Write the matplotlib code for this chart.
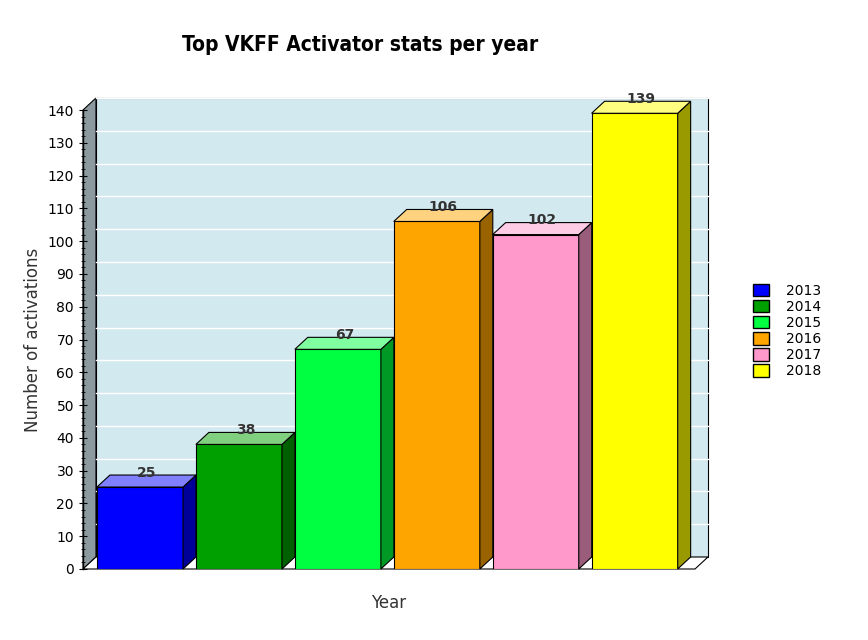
import matplotlib
matplotlib.use("Agg")
import matplotlib.pyplot as plt
from matplotlib.patches import Polygon, Rectangle
from matplotlib.colors import to_rgb

years = ["2013", "2014", "2015", "2016", "2017", "2018"]
values = [25, 38, 67, 106, 102, 139]
colors = ["#0000ff", "#00a000", "#00ff40", "#ffa500", "#ff99cc", "#ffff00"]

fig = plt.figure(figsize=(8.68, 6.4), dpi=100)
ax = fig.add_axes([83/868, 1-569/640, (695-83)/868, (569-110)/640])
xl, xr = -0.576, 5.61
ax.set_xlim(xl, xr); ax.set_ylim(0, 140)
dx, dy = 0.131, 3.66
ax.set_facecolor("none")
for s in ["top", "right", "bottom"]:
    ax.spines[s].set_visible(False)
ax.spines["left"].set_visible(False)

def shade(c, f):
    r, g, b = to_rgb(c)
    return (r*f, g*f, b*f)
def tint(c, f):
    r, g, b = to_rgb(c)
    return (r+(1-r)*f, g+(1-g)*f, b+(1-b)*f)

kw = dict(clip_on=False, ec="black", lw=0.8)
# back wall
ax.add_patch(Polygon([(xl+dx, dy), (xr+dx, dy), (xr+dx, 140+dy), (xl+dx, 140+dy)], fc="#d3e9f0", zorder=0, **kw))
# left wall
ax.add_patch(Polygon([(xl, 0), (xl+dx, dy), (xl+dx, 140+dy), (xl, 140)], fc="#8c9aa0", zorder=0, **kw))
# floor
ax.add_patch(Polygon([(xl, 0), (xr, 0), (xr+dx, dy), (xl+dx, dy)], fc="white", zorder=0, **kw))
for t in range(10, 141, 10):
    ax.plot([xl+dx, xr+dx], [t+dy, t+dy], color="white", lw=1, zorder=0.5, clip_on=False)
ax.plot([xl, xl], [0, 140], color="black", lw=1, clip_on=False, zorder=1)

w = 0.87
for i, (v, c) in enumerate(zip(values, colors)):
    x0, x1 = i - w/2, i + w/2
    ax.bar(i, v, width=w, color=c, edgecolor="black", lw=0.8, zorder=3)
    ax.add_patch(Polygon([(x1, 0), (x1+dx, dy), (x1+dx, v+dy), (x1, v)], fc=shade(c, 0.6), zorder=3, **kw))
    ax.add_patch(Polygon([(x0, v), (x1, v), (x1+dx, v+dy), (x0+dx, v+dy)], fc=tint(c, 0.5), zorder=3, **kw))
    ax.text(i + dx/2, v + dy*0.6, str(v), ha="center", va="bottom", fontsize=10, fontweight="bold", color="#333333", zorder=4)

ax.set_xticks([])
ax.set_yticks(range(0, 141, 10))
ax.set_yticks(range(0, 141, 2), minor=True)
ax.tick_params(axis="y", labelsize=10, direction="inout", length=6, colors="black")
ax.tick_params(axis="y", which="minor", direction="inout", length=3)
ax.set_ylabel("Number of activations", fontsize=12, color="#333333")
ax.set_xlabel("Year", fontsize=12, color="#333333", labelpad=18)
fig.text(360/868, 1-45/640, "Top VKFF Activator stats per year", ha="center", va="center",
         fontsize=15, fontweight="bold", family="DejaVu Sans", stretch="condensed")

handles = [Rectangle((0, 0), 1, 1, fc=c, ec="black") for c in colors]
fig.legend(handles, years, loc="center left", bbox_to_anchor=(740/868, 1-331/640), frameon=False,
           fontsize=10, handlelength=1.2, handleheight=1.0, labelspacing=0.15, handletextpad=1.2)
fig.savefig("out.png", dpi=100)
